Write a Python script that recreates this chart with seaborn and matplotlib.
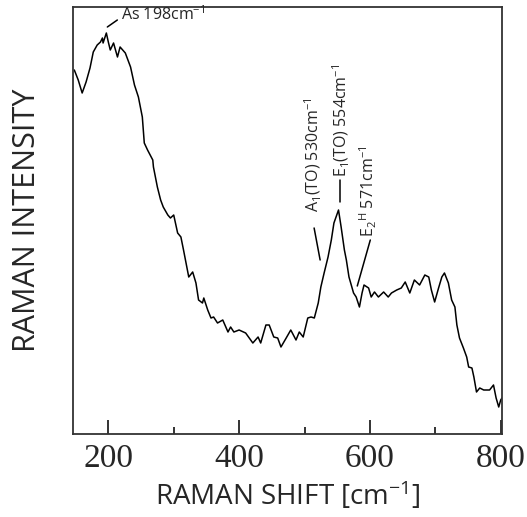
import matplotlib
matplotlib.use("Agg")
import matplotlib.pyplot as plt
import seaborn as sns
import pandas as pd

# Raman shift (cm^-1) and intensity (arbitrary units)
shift = [148, 154, 160, 166, 172, 177, 183, 188, 191, 192,
         197, 200, 203, 208, 214, 218, 226, 234, 240, 246,
         252, 255, 260, 268, 269, 275, 280, 284, 291, 295,
         300, 306, 311, 315, 323, 329, 334, 338, 344, 346,
         352, 357, 361, 367, 375, 383, 387, 392, 400, 410,
         421, 429, 433, 441, 446, 453, 459, 464, 472, 479,
         487, 492, 498, 505, 510, 515, 521, 525, 530, 536,
         541, 545, 552, 556, 561, 564, 568, 575, 579, 584,
         588, 591, 598, 602, 607, 613, 621, 628, 633, 641,
         648, 654, 661, 668, 676, 684, 690, 694, 699, 705,
         710, 714, 720, 725, 730, 733, 737, 743, 748, 751,
         756, 759, 763, 768, 774, 779, 783, 789, 793, 797,
         800, 802]
intensity = [364, 354, 341, 352, 366, 382, 389, 392, 396, 391,
             401, 392, 384, 391, 377, 387, 381, 367, 349, 337,
             317, 291, 284, 274, 267, 247, 234, 227, 219, 216,
             219, 201, 197, 184, 157, 162, 151, 134, 131, 136,
             124, 116, 117, 111, 114, 102, 107, 102, 104, 101,
             91, 97, 91, 109, 109, 97, 96, 87, 96, 104,
             94, 102, 97, 116, 117, 116, 131, 147, 161, 177,
             194, 211, 224, 207, 184, 174, 157, 141, 137, 127,
             141, 149, 146, 137, 142, 137, 142, 137, 141, 144,
             146, 152, 141, 154, 149, 159, 157, 144, 132, 146,
             157, 161, 151, 134, 127, 109, 96, 86, 77, 67,
             66, 57, 42, 46, 44, 44, 44, 49, 36, 27,
             34, 36]

xticks = [200, 400, 600, 800]
minor_xticks = [300, 500, 700]

labels = [r"As 198cm$^{-1}$",
          r"A$_1$(TO) 530cm$^{-1}$",
          r"E$_1$(TO) 554cm$^{-1}$",
          r"E$_2$$^{H}$ 571cm$^{-1}$"]

sns.set_style("white")
plt.rcParams["font.family"] = ["Open Sans", "DejaVu Sans"]
plt.rcParams["mathtext.fontset"] = "custom"
plt.rcParams["mathtext.rm"] = "Open Sans"
plt.rcParams["mathtext.it"] = "Open Sans:italic"
plt.rcParams["mathtext.bf"] = "Open Sans:bold"
plt.rcParams["mathtext.default"] = "regular"

df = pd.DataFrame({"shift": shift, "intensity": intensity})

fig = plt.figure(figsize=(5.27, 5.17), dpi=100)
ax = fig.add_axes([73 / 527, 1 - 434 / 517, (502 - 73) / 527, (434 - 7) / 517])

sns.lineplot(data=df, x="shift", y="intensity", ax=ax, color="black",
             linewidth=1.1, estimator=None, sort=True)

ax.set_xlim(146, 802)
ax.set_ylim(0, 427)
ax.set_xticks(xticks)
ax.set_xticks(minor_xticks, minor=True)
ax.set_xticklabels([str(t) for t in xticks], fontfamily="Liberation Serif", fontsize=24)
ax.set_yticks([])
ax.tick_params(axis="x", which="both", bottom=True, top=False)
ax.tick_params(axis="x", which="major", direction="in", length=10, width=1.4,
               color="#333333", pad=7)
ax.tick_params(axis="x", which="minor", direction="in", length=5, width=1.4,
               color="#333333")
for s in ax.spines.values():
    s.set_visible(True)
    s.set_color("#333333")
    s.set_linewidth(1.3)

ax.set_xlabel(r"RAMAN SHIFT [cm$^{-1}$]", fontsize=20, labelpad=4)
ax.set_ylabel("RAMAN INTENSITY", fontsize=22, labelpad=22)

# annotations
ann_fs = 11.5
ax.text(220, 419, labels[0], fontsize=ann_fs, ha="left", va="center")
ax.plot([198.5, 213.8], [407, 414], color="black", lw=1.1)

ax.text(513, 222, labels[1], fontsize=ann_fs, rotation=90, ha="center", va="bottom")
ax.plot([514.7, 523.9], [206, 174], color="black", lw=1.1)

ax.text(556, 257, labels[2], fontsize=ann_fs, rotation=90, ha="center", va="bottom")
ax.plot([554.6, 554.6], [254, 232], color="black", lw=1.1)

ax.text(597.6, 197, labels[3], fontsize=ann_fs, rotation=90, ha="center", va="bottom")
ax.plot([600.6, 580.7], [194, 148], color="black", lw=1.1)

fig.savefig("out.png", dpi=100)
